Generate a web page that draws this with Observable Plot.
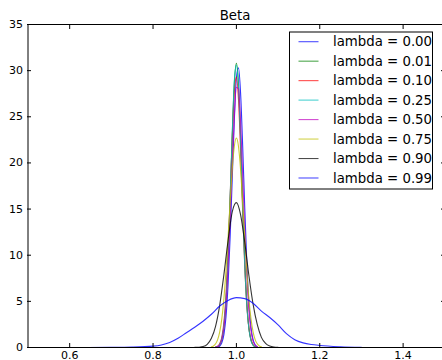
<!DOCTYPE html>
<html>
<head>
<meta charset="utf-8">
<script src="https://cdn.jsdelivr.net/npm/d3@7"></script>
<script src="https://cdn.jsdelivr.net/npm/@observablehq/plot@0.6"></script>
<style>
  html, body { margin: 0; padding: 0; background: white; }
  #chart svg { display: block; }
</style>
</head>
<body>
<div id="chart"></div>
<script>
// ---- data ----
const labels = ["lambda = 0.00", "lambda = 0.01", "lambda = 0.10", "lambda = 0.25",
                "lambda = 0.50", "lambda = 0.75", "lambda = 0.90", "lambda = 0.99"];
const colors = ["#0000ff", "#008000", "#ff0000", "#00bfbf", "#bf00bf", "#bfbf00", "#000000", "#0000ff"];

const xNarrow = [0.95, 0.955, 0.96, 0.965, 0.97, 0.975, 0.98, 0.985, 0.99, 0.995, 1.0,
                 1.005, 1.01, 1.015, 1.02, 1.025, 1.03, 1.035, 1.04, 1.045, 1.05];
const y000 = [0.01, 0.04, 0.15, 0.5, 1.4, 3.3, 6.8, 12.0, 18.3, 24.6, 29.2, 30.3, 27.6, 21.9, 15.2, 9.2, 4.8, 2.2, 0.85, 0.3, 0.09];
const y001 = [0.02, 0.08, 0.3, 0.85, 2.2, 4.9, 9.5, 15.9, 22.9, 28.6, 30.8, 28.6, 22.9, 15.8, 9.4, 4.8, 2.1, 0.8, 0.27, 0.08, 0.02];
const y010 = [0.04, 0.13, 0.42, 1.1, 2.7, 5.6, 10.2, 16.3, 22.6, 27.7, 29.3, 26.9, 21.4, 14.8, 8.9, 4.6, 2.1, 0.85, 0.3, 0.09, 0.03];
const y025 = [0.03, 0.1, 0.35, 0.95, 2.4, 5.2, 9.9, 16.3, 23.2, 28.8, 30.6, 28.2, 22.4, 15.3, 9.0, 4.5, 2.0, 0.75, 0.25, 0.07, 0.02];
const y050 = [0.03, 0.1, 0.3, 0.85, 2.1, 4.5, 8.6, 14.0, 19.9, 25.0, 28.2, 28.0, 24.5, 18.8, 12.8, 7.8, 3.9, 1.8, 0.7, 0.25, 0.08];

const xYellow = [0.94, 0.945, 0.95, 0.955, 0.96, 0.965, 0.97, 0.975, 0.98, 0.985, 0.99, 0.995, 1.0,
                 1.005, 1.01, 1.015, 1.02, 1.025, 1.03, 1.035, 1.04, 1.045, 1.05, 1.055, 1.06];
const y075 = [0.07, 0.17, 0.4, 0.86, 1.7, 3.1, 5.3, 8.3, 11.9, 15.8, 19.3, 21.8, 22.7,
              21.8, 19.3, 15.8, 11.9, 8.3, 5.3, 3.1, 1.7, 0.86, 0.4, 0.17, 0.07];

const xBlack = [0.9, 0.91, 0.92, 0.93, 0.94, 0.95, 0.96, 0.97, 0.98, 0.99, 1.0,
                1.01, 1.02, 1.03, 1.04, 1.05, 1.06, 1.07, 1.08, 1.09, 1.1];
const y090 = [0.01, 0.03, 0.1, 0.35, 1.0, 2.3, 4.6, 7.9, 11.6, 14.7, 15.7,
              14.4, 11.4, 7.8, 4.7, 2.5, 1.1, 0.45, 0.15, 0.04, 0.01];

const xWide = [0.64, 0.7, 0.75, 0.8, 0.82, 0.84, 0.86, 0.88, 0.9, 0.92, 0.94, 0.96, 0.98, 1.0,
               1.02, 1.04, 1.06, 1.08, 1.1, 1.12, 1.14, 1.16, 1.18, 1.2, 1.25, 1.3];
const y099 = [0, 0.01, 0.04, 0.15, 0.28, 0.55, 1.0, 1.6, 2.2, 2.85, 3.6, 4.5, 5.1, 5.4,
              5.3, 4.8, 3.95, 3.25, 2.45, 1.5, 0.85, 0.5, 0.32, 0.22, 0.08, 0.01];

const xTicks = [0.6, 0.8, 1.0, 1.2, 1.4];
const yTicks = [0, 5, 10, 15, 20, 25, 30, 35];
const xDomain = [0.5, 1.5];
const yDomain = [0, 35];
const title = "Beta";

// ---- build table ----
const seriesX = [xNarrow, xNarrow, xNarrow, xNarrow, xNarrow, xYellow, xBlack, xWide];
const seriesY = [y000, y001, y010, y025, y050, y075, y090, y099];
const series = labels.map((label, i) => ({
  label, color: colors[i],
  rows: seriesX[i].map((x, j) => ({x, y: seriesY[i][j]}))
}));

const font = "DejaVu Sans, Liberation Sans, sans-serif";
const noText = () => "";

const chart = Plot.plot({
  width: 442,
  height: 360,
  marginTop: 24,
  marginBottom: 13,
  marginLeft: 27,
  marginRight: 0,
  style: {fontFamily: font, fontSize: "11px", background: "white", color: "black", overflow: "hidden"},
  x: {domain: xDomain, range: [27.5, 444.3]},
  y: {domain: yDomain},
  marks: [
    ...series.map(s => Plot.line(s.rows, {x: "x", y: "y", stroke: s.color, strokeWidth: 1.1, strokeOpacity: 0.8, curve: "monotone-x"})),
    // spines
    Plot.ruleX([xDomain[0]], {stroke: "black", strokeWidth: 1}),
    Plot.ruleY(yDomain, {stroke: "black", strokeWidth: 1}),
    // tick labels
    Plot.axisX(xTicks, {anchor: "bottom", tickSize: 0, tickPadding: 3.5, tickFormat: d3.format(".1f"), label: null, fontSize: 11}),
    Plot.axisY(yTicks, {anchor: "left", tickSize: 0, tickPadding: 4.5, label: null, fontSize: 11}),
    // inward ticks on all sides
    Plot.axisX(xTicks, {anchor: "bottom", tickSize: 4, dy: -4, tickFormat: noText, label: null}),
    Plot.axisX(xTicks, {anchor: "top", tickSize: 4, dy: 4, tickFormat: noText, label: null}),
    Plot.axisY(yTicks, {anchor: "left", tickSize: 4, dx: 4, tickFormat: noText, label: null}),
    Plot.axisY(yTicks, {anchor: "right", tickSize: 4, dx: -2, tickFormat: noText, label: null}),
    // title
    Plot.text([title], {text: d => d, frameAnchor: "top", lineAnchor: "bottom", dy: -5, fontSize: 13.3, fill: "black"})
  ]
});

// ---- legend ----
const svg = d3.select(chart);
const lg = svg.append("g").attr("font-family", font).attr("font-size", 13.3).attr("text-anchor", "start");
lg.append("rect").attr("x", 289.5).attr("y", 32).attr("width", 143).attr("height", 157)
  .attr("fill", "white").attr("stroke", "black").attr("stroke-width", 1);
series.forEach((s, i) => {
  const cy = 41.7 + i * 19.47;
  lg.append("line").attr("x1", 298.5).attr("x2", 318.5).attr("y1", cy).attr("y2", cy)
    .attr("stroke", s.color).attr("stroke-opacity", 0.7).attr("stroke-width", 1.1);
  lg.append("text").attr("x", 333).attr("y", cy).attr("dy", "0.35em").attr("text-anchor", "start")
    .attr("fill", "black").text(s.label);
});

document.getElementById("chart").appendChild(chart);
</script>
</body>
</html>
